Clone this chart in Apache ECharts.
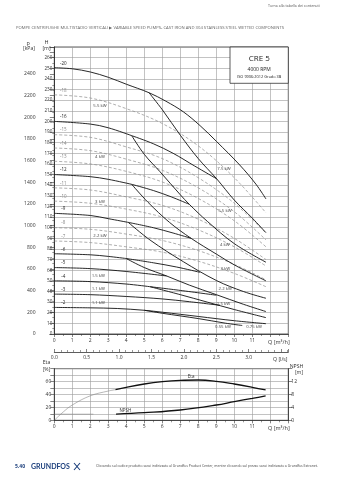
<!DOCTYPE html>
<html>
<head>
<meta charset="utf-8">
<script src="https://cdn.jsdelivr.net/npm/echarts/dist/echarts.min.js"></script>
<style>
  html, body { margin: 0; padding: 0; background: #fff; }
  #chart { width: 339px; height: 480px; }
</style>
</head>
<body>
<div id="chart"></div>
<script>
// ---- Flow axis ticks ----
const flowTicks = [0, 1, 2, 3, 4, 5, 6, 7, 8, 9, 10, 11];
const litreTicks = [0, 0.5, 1, 1.5, 2, 2.5, 3];

// ---- Full-speed curves of intermediate stage counts (dashed) [Q m3/h, H m] ----
const st18 = [[0,225],[2,222],[4,212],[6,198],[8,177],[10,147],[11.76,114]];
const st15 = [[0,187.5],[2,185],[4,176],[6,165],[8,147],[10,123],[11.76,95]];
const st14 = [[0,175],[2,172.5],[4,164.5],[6,154],[8,137.5],[10,115],[11.76,88.5]];
const st13 = [[0,162.5],[2,160],[4,153],[6,143],[8,127.5],[10,106.5],[11.76,82]];
const st11 = [[0,137.5],[2,135.5],[4,129],[6,121],[8,108],[10,90],[11.76,70]];
const st10 = [[0,125],[2,123],[4,117.5],[6,110],[8,98],[10,82],[11.76,64]];
const st8  = [[0,100],[2,98.5],[4,94],[6,88],[8,78.5],[10,65.5],[11.76,51]];
const st7  = [[0,87.5],[2,86],[4,82],[6,77],[8,68.5],[10,57],[11.76,44.5]];

// ---- Solid curves: stage curves up to the power limit and the limited branches ----
const l20Full = [[0,250.5],[1,249.5],[2,246.5],[3,241.5],[4,235],[5.26,227],[6.2,219],[7.17,209],[8.1,196],[9.02,181],[10.3,159],[11.2,141],[11.76,127]];
const l20Lim  = [[5.26,227],[6,211],[7,187],[8,165],[9.02,146],[10,126],[11,109],[11.76,95.3]];
const l16Base = [[0,200],[2,197.5],[3,194],[4.3,186.6]];
const l16Up   = [[4.3,186.6],[5.5,179],[6.6,170],[7.8,158],[9.02,146]];
const l16Lim  = [[4.3,186.6],[5,169],[5.87,152.7],[7,131],[7.5,122],[8.5,106],[10,85],[11.76,67.5]];
const l12Base = [[0,150],[2,148],[3,145.5],[4.3,140.8]];
const l12Up   = [[4.3,140.8],[5.5,135],[6.5,129],[7.5,122]];
const l12Lim  = [[4.3,140.8],[5.2,124],[6.4,105],[7.6,90],[9.02,75],[10,65],[11.76,50]];
const l9Base  = [[0,113.5],[2,111.5],[3,108.5],[4.11,105]];
const l9Up    = [[4.11,105],[5.5,100],[6.6,95],[7.6,90]];
const l9Lim   = [[4.11,105],[5.32,88.4],[7.17,68],[9.02,50.2],[10.5,40],[11.76,33.6]];
const l6Base  = [[0,75.5],[2,74.5],[3,73],[4,71]];
const l6Up    = [[4,71],[5.5,67],[6.8,63],[8.1,58]];
const l6Lim   = [[4,71],[5,62.5],[6.24,54.6],[7.5,46],[9,37],[10.5,28],[11.76,21.1]];
const l5Base  = [[0,62.5],[2,61.5],[4,58.8],[6.24,54.6]];
const l4Base  = [[0,50],[2,49.3],[4,47],[5.32,44.5]];
const l4Up    = [[5.32,44.5],[7,41],[9,36.5]];
const l4Lim   = [[5.32,44.5],[7,37],[8.5,30],[10,23],[11.76,15.4]];
const l3Base  = [[0,37.5],[2,37],[4,35.3],[6,33],[7.5,30.4],[9.2,27]];
const l2Big   = [[0,25],[2,24.6],[3.5,24],[5,22.3],[6,20.5],[8,16.5],[10,12.5],[11.76,9.7]];
const l2Small = [[5,22.3],[6,19.5],[8,14.5],[9.5,10.2],[10.44,8]];

// ---- Stage labels: name and shut-off head ----
const stageNames = ['-20','-18','-16','-15','-14','-13','-12','-11','-10','-9','-8','-7','-6','-5','-4','-3','-2'];
const stageHeads = [250.5,225,200,187.5,175,162.5,150,137.5,125,113.5,100,87.5,75.5,62.5,50,37.5,25];
const stageSolid = [true,false,true,false,false,false,true,false,false,true,false,false,true,true,true,true,true];

// ---- Motor power annotations [Q, H] ----
const powerText = ['5.5 kW','4 kW','3 kW','2.2 kW','1.5 kW','1.1 kW','1.1 kW','7.5 kW','5.5 kW','4 kW','3 kW','2.2 kW','1.5 kW','0.55 kW','0.75 kW'];
const powerQ    = [2.54,2.54,2.54,2.54,2.45,2.45,2.45,9.43,9.48,9.48,9.5,9.5,9.4,9.37,11.1];
const powerH    = [214.8,166.3,124.5,92.2,54.6,42.4,29.8,155.2,116,83.7,61.2,42.3,28.9,6.9,6.9];

// ---- Efficiency and NPSH [Q m3/h, value] ----
const etaLow  = [[0,0],[0.5,13],[1,23.7],[2,38],[3,45.4],[3.4,47.5]];
const etaMain = [[3.4,47.5],[4,51.2],[5,56.3],[6,59.9],[7,62],[8,62.5],[9,60.5],[10,56.3],[11,51.2],[11.74,47]];
const npshLow  = [[0,1.9],[2.17,1.9]];
const npshMain = [[3.43,1.9],[5,2.36],[7,3.2],[9,4.74],[10,5.8],[11,6.8],[11.74,7.6]];

const H_MAX = 270;
const KPA_PER_M = 9.81;
const Q_MAX = 13;

const chart = echarts.init(document.getElementById('chart'), null, { renderer: 'canvas' });
const FONT = 'Open Sans';
const GRID_COLOR = '#9b9b9b';
const AXIS_COLOR = '#333';

function solid(data) {
  return { type: 'line', xAxisIndex: 0, yAxisIndex: 0, data, smooth: 0.35, symbol: 'none',
           lineStyle: { color: '#111', width: 0.9 }, z: 5, silent: true };
}
function dashed(data) {
  return { type: 'line', xAxisIndex: 0, yAxisIndex: 0, data, smooth: 0.35, symbol: 'none',
           lineStyle: { color: '#8c8c8c', width: 0.7, type: [3, 2] }, z: 4, silent: true };
}

const series = [
  dashed(st18), dashed(st15), dashed(st14), dashed(st13), dashed(st11), dashed(st10), dashed(st8), dashed(st7),
  solid(l20Full), solid(l20Lim), solid(l16Base), solid(l16Up), solid(l16Lim),
  solid(l12Base), solid(l12Up), solid(l12Lim), solid(l9Base), solid(l9Up), solid(l9Lim),
  solid(l6Base), solid(l6Up), solid(l6Lim), solid(l5Base), solid(l4Base), solid(l4Up), solid(l4Lim),
  solid(l3Base), solid(l2Big), solid(l2Small),
  { type: 'line', xAxisIndex: 2, yAxisIndex: 2, data: etaLow, smooth: 0.4, symbol: 'none',
    lineStyle: { color: '#888', width: 0.6 }, silent: true },
  { type: 'line', xAxisIndex: 2, yAxisIndex: 2, data: etaMain, smooth: 0.4, symbol: 'none',
    lineStyle: { color: '#111', width: 1.3 }, silent: true },
  { type: 'line', xAxisIndex: 2, yAxisIndex: 3, data: npshLow, symbol: 'none',
    lineStyle: { color: '#888', width: 0.6 }, silent: true },
  { type: 'line', xAxisIndex: 2, yAxisIndex: 3, data: npshMain, smooth: 0.4, symbol: 'none',
    lineStyle: { color: '#111', width: 1.3 }, silent: true }
];

const tickLabel = { fontFamily: FONT, fontSize: 5, color: '#333' };

chart.setOption({
  animation: false,
  backgroundColor: '#fff',
  grid: [
    { left: 54.3, top: 47, width: 234, height: 287, show: true, borderColor: AXIS_COLOR, borderWidth: 0.8 },
    { left: 54.3, top: 368.7, width: 234, height: 51.6, show: true, borderColor: AXIS_COLOR, borderWidth: 0.8 }
  ],
  xAxis: [
    { gridIndex: 0, type: 'value', min: 0, max: Q_MAX, interval: 1,
      axisLine: { lineStyle: { color: AXIS_COLOR, width: 0.8 } },
      axisTick: { length: 3, lineStyle: { color: AXIS_COLOR, width: 0.6 } },
      minorTick: { show: true, splitNumber: 2, length: 2, lineStyle: { color: AXIS_COLOR, width: 0.5 } },
      axisLabel: Object.assign({ margin: 4, formatter: v => flowTicks.includes(v) ? String(v) : '' }, tickLabel),
      splitLine: { show: true, lineStyle: { color: GRID_COLOR, width: 0.6 } } },
    { gridIndex: 0, type: 'value', position: 'bottom', offset: 18, min: 0, max: Q_MAX / 3.6, interval: 0.5,
      axisLine: { onZero: false, lineStyle: { color: AXIS_COLOR, width: 0.8 } },
      axisTick: { inside: true, length: 3, lineStyle: { color: AXIS_COLOR, width: 0.6 } },
      minorTick: { show: true, splitNumber: 5, length: 2, lineStyle: { color: AXIS_COLOR, width: 0.5 } },
      axisLabel: Object.assign({ margin: 3, formatter: v => litreTicks.includes(v) ? v.toFixed(1) : '' }, tickLabel),
      splitLine: { show: false } },
    { gridIndex: 1, type: 'value', min: 0, max: Q_MAX, interval: 1,
      axisLine: { lineStyle: { color: AXIS_COLOR, width: 0.8 } },
      axisTick: { length: 3, lineStyle: { color: AXIS_COLOR, width: 0.6 } },
      minorTick: { show: true, splitNumber: 2, length: 2, lineStyle: { color: AXIS_COLOR, width: 0.5 } },
      axisLabel: Object.assign({ margin: 4, formatter: v => flowTicks.includes(v) ? String(v) : '' }, tickLabel),
      splitLine: { show: true, lineStyle: { color: GRID_COLOR, width: 0.6 } } }
  ],
  yAxis: [
    { gridIndex: 0, type: 'value', min: 0, max: H_MAX, interval: 10,
      axisLine: { show: true, lineStyle: { color: AXIS_COLOR, width: 0.8 } },
      axisTick: { show: true, length: 5, lineStyle: { color: AXIS_COLOR, width: 0.6 } },
      axisLabel: Object.assign({ margin: 2, formatter: v => v < H_MAX ? String(v) : '' }, tickLabel, { fontSize: 4.6 }),
      splitLine: { show: true, lineStyle: { color: GRID_COLOR, width: 0.6 } } },
    { gridIndex: 0, type: 'value', position: 'left', offset: 17.3, min: 0, max: H_MAX * KPA_PER_M, interval: 200,
      axisLine: { show: true, lineStyle: { color: AXIS_COLOR, width: 0.8 } },
      axisTick: { show: true, length: 4.5, lineStyle: { color: AXIS_COLOR, width: 0.6 } },
      minorTick: { show: true, splitNumber: 4, length: 2, lineStyle: { color: AXIS_COLOR, width: 0.5 } },
      axisLabel: Object.assign({ margin: 1.5, formatter: v => v <= 2400 ? String(v) : '' }, tickLabel),
      splitLine: { show: false } },
    { gridIndex: 1, type: 'value', min: 0, max: 80, interval: 10,
      axisLine: { show: true, lineStyle: { color: AXIS_COLOR, width: 0.8 } },
      axisTick: { show: true, length: 4, lineStyle: { color: AXIS_COLOR, width: 0.6 } },
      axisLabel: Object.assign({ margin: 3, formatter: v => (v % 20 === 0 && v < 80) ? String(v) : '' }, tickLabel),
      splitLine: { show: true, lineStyle: { color: GRID_COLOR, width: 0.6 } } },
    { gridIndex: 1, type: 'value', position: 'right', min: 0, max: 16, interval: 4,
      axisLine: { show: true, lineStyle: { color: AXIS_COLOR, width: 0.8 } },
      axisTick: { show: true, length: 4, lineStyle: { color: AXIS_COLOR, width: 0.6 } },
      axisLabel: Object.assign({ margin: 3, formatter: v => v < 16 ? String(v) : '' }, tickLabel),
      splitLine: { show: false } }
  ],
  series
});

// ---- Text and decorations placed after the scales exist ----
const txt = (x, y, text, size, opts) => ({
  type: 'text', x, y, silent: true, z: 20,
  style: Object.assign({ text, fontFamily: FONT, fontSize: size, fill: '#333', textVerticalAlign: 'middle' }, opts || {})
});

const g = [];
g.push(txt(268, 6, 'Torna alla tabella dei contenuti', 3.6, { fill: '#555' }));
g.push(txt(16, 27.5, 'POMPE CENTRIFUGHE MULTISTADIO VERTICALI \u25B6 VARIABLE SPEED PUMPS- CAST IRON AND 304 STAINLESS STEEL WETTED COMPONENTS', 4.2, { fill: '#666' }));
g.push(txt(28.3, 43.5, 'p', 5.5, { textAlign: 'center' }));
g.push(txt(29, 48.5, '[kPa]', 5.2, { textAlign: 'center' }));
g.push(txt(46.5, 42.5, 'H', 5.5, { textAlign: 'center' }));
g.push(txt(46.5, 48.5, '[m]', 5.2, { textAlign: 'center' }));
g.push(txt(268, 342.5, 'Q [m\u00B3/h]', 5.5));
g.push(txt(273, 359.8, 'Q [l/s]', 5.2));
g.push(txt(268, 428.5, 'Q [m\u00B3/h]', 5.5));
g.push(txt(46.5, 362.3, 'Eta', 5.2, { textAlign: 'center' }));
g.push(txt(46.5, 370, '[%]', 5.2, { textAlign: 'center' }));
g.push(txt(296.5, 366.5, 'NPSH', 5.2, { textAlign: 'center' }));
g.push(txt(299, 372.5, '[m]', 5.2, { textAlign: 'center' }));

// title box in the top-right corner of the curve chart
g.push({ type: 'rect', z: 10, silent: true, shape: { x: 230, y: 47, width: 58.3, height: 36.3 },
         style: { fill: '#fff', stroke: AXIS_COLOR, lineWidth: 0.8 } });
g.push(txt(259.2, 58.5, 'CRE 5', 8, { textAlign: 'center', fill: '#222' }));
g.push(txt(259.2, 69.3, '4000 RPM', 5, { textAlign: 'center', fill: '#222' }));
g.push(txt(259.2, 77.3, 'ISO 9906:2012 Grado 3B', 3.9, { textAlign: 'center', fill: '#222' }));

// stage labels just above each curve start
stageNames.forEach((name, i) => {
  const p = chart.convertToPixel({ xAxisIndex: 0, yAxisIndex: 0 }, [0.5, stageHeads[i]]);
  g.push(txt(p[0], p[1] - 4.5, name, 4.5, { textAlign: 'center', fill: stageSolid[i] ? '#222' : '#888' }));
});

// motor power labels
powerText.forEach((t, i) => {
  const p = chart.convertToPixel({ xAxisIndex: 0, yAxisIndex: 0 }, [powerQ[i], powerH[i]]);
  g.push(txt(p[0], p[1], t, 4.3, { textAlign: 'center', fill: '#444' }));
});

// efficiency / NPSH curve names
const pe = chart.convertToPixel({ xAxisIndex: 2, yAxisIndex: 2 }, [7.6, 68]);
g.push(txt(pe[0], pe[1], 'Eta', 4.5, { textAlign: 'center', fill: '#333' }));
const pn = chart.convertToPixel({ xAxisIndex: 2, yAxisIndex: 3 }, [3.95, 3.1]);
g.push(txt(pn[0], pn[1], 'NPSH', 4.5, { textAlign: 'center', fill: '#333' }));

// footer
g.push(txt(15, 466.5, '5.40', 5, { fill: '#1c3f7c', fontWeight: 'bold' }));
g.push(txt(31, 466.5, 'GRUNDFOS', 7, { fill: '#1c3f7c', fontWeight: 'bold', fontFamily: 'Lato' }));
g.push({ type: 'polyline', silent: true, shape: { points: [[74, 463], [77, 466.5], [80, 463]] },
         style: { stroke: '#1c3f7c', lineWidth: 1.1, fill: null } });
g.push({ type: 'polyline', silent: true, shape: { points: [[74, 470], [77, 466.5], [80, 470]] },
         style: { stroke: '#1c3f7c', lineWidth: 1.1, fill: null } });
g.push(txt(96, 466.5, 'Cliccando sul codice prodotto sarai indirizzato al Grundfos Product Center, mentre cliccando sul prezzo sarai indirizzato a Grundfos Extranet.', 3.4, { fill: '#444' }));

chart.setOption({ graphic: { elements: g } });
</script>
</body>
</html>
